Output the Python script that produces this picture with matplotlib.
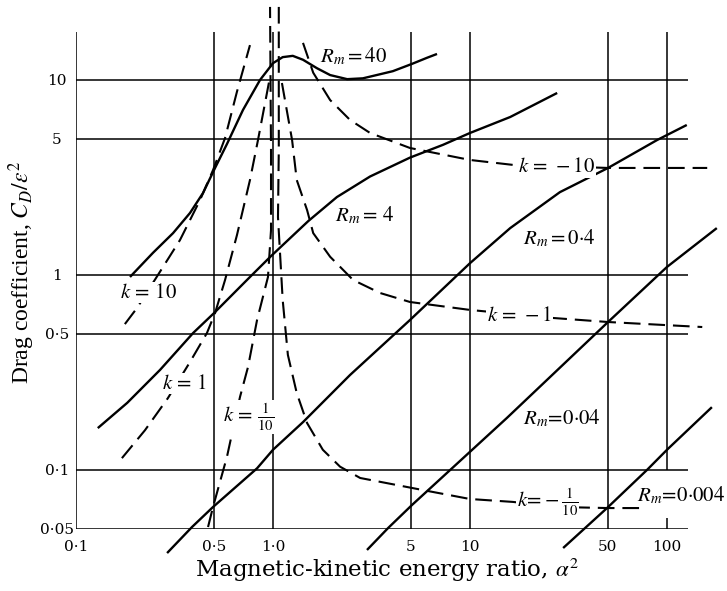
import matplotlib
matplotlib.use("Agg")
import matplotlib.pyplot as plt

plt.rcParams['font.family'] = ['DejaVu Serif']
plt.rcParams['mathtext.fontset'] = 'stix'

# ---------------- data ----------------
rm40_x = [0.188, 0.246, 0.311, 0.379, 0.441, 0.508, 0.584, 0.704, 0.859, 1.0, 1.12, 1.26, 1.42,
          1.67, 1.95, 2.38, 2.86, 3.49, 4.06, 5.08, 6.05, 6.80]
rm40_y = [0.977, 1.30, 1.64, 2.08, 2.63, 3.54, 4.7, 7.02, 10.0, 12.2, 13.1, 13.3, 12.7,
          11.5, 10.6, 10.1, 10.2, 10.7, 11.1, 12.1, 13.0, 13.6]

rm4_x = [0.129, 0.182, 0.267, 0.393, 0.502, 0.764, 0.977, 1.51, 2.11, 3.11, 4.96, 7.29, 10.0, 16.0, 27.7]
rm4_y = [0.164, 0.221, 0.326, 0.504, 0.638, 0.977, 1.25, 1.89, 2.51, 3.2, 4.0, 4.65, 5.35, 6.46, 8.58]

rm04_x = [0.290, 0.388, 0.496, 0.830, 1.0, 1.42, 2.46, 4.96, 10.0, 16.0, 28.6, 50.2, 89.0, 126]
rm04_y = [0.0375, 0.051, 0.0646, 0.102, 0.127, 0.176, 0.307, 0.588, 1.15, 1.74, 2.66, 3.54, 4.92, 5.88]

rm004_x = [3.0, 3.84, 5.08, 10.0, 15.4, 50.2, 100, 179]
rm004_y = [0.0389, 0.0504, 0.0662, 0.124, 0.185, 0.574, 1.10, 1.74]

rm0004_x = [29.7, 49.6, 79.1, 100, 169]
rm0004_y = [0.0398, 0.0638, 0.100, 0.127, 0.210]

k10_x = [0.177, 0.204, 0.267, 0.337, 0.426, 0.496, 0.571, 0.656, 0.764]
k10_y = [0.56, 0.677, 1.04, 1.51, 2.42, 3.45, 5.04, 8.7, 15.1]

k1_x = [0.171, 0.224, 0.293, 0.379, 0.462, 0.508, 0.571, 0.656, 0.764, 0.839, 0.966]
k1_y = [0.115, 0.160, 0.234, 0.358, 0.504, 0.638, 0.943, 1.60, 3.07, 4.92, 10.4]

k01_x = [0.468, 0.496, 0.584, 0.680, 0.747, 0.830, 0.943, 0.977, 0.977, 0.966]
k01_y = [0.051, 0.0646, 0.117, 0.237, 0.338, 0.588, 0.977, 1.70, 4.38, 23.7]

km01_x = [1.07, 1.07, 1.07, 1.06, 1.12, 1.19, 1.32, 1.49, 1.79, 2.19, 2.77, 5.77, 10.0, 16.5, 28.6, 50.2, 75.5]
km01_y = [23.7, 9.2, 4.38, 1.98, 0.744, 0.389, 0.248, 0.174, 0.127, 0.104, 0.0910, 0.0789, 0.0710,
          0.0686, 0.0646, 0.0638, 0.0638]

km1_x = [1.11, 1.25, 1.32, 1.49, 1.60, 1.95, 2.55, 3.49, 4.96, 10.0, 26.4, 50.2, 151]
km1_y = [9.65, 4.92, 3.07, 2.15, 1.64, 1.24, 0.943, 0.809, 0.727, 0.662, 0.602, 0.574, 0.541]

km10_x = [1.42, 1.60, 1.95, 2.46, 3.11, 4.96, 10.0, 16.5, 50.2, 160]
km10_y = [15.5, 10.9, 7.89, 6.24, 5.35, 4.48, 3.89, 3.67, 3.54, 3.54]

solid_curves = [(rm40_x, rm40_y), (rm4_x, rm4_y), (rm04_x, rm04_y), (rm004_x, rm004_y), (rm0004_x, rm0004_y)]
dashed_curves = [(k10_x, k10_y), (k1_x, k1_y), (k01_x, k01_y), (km01_x, km01_y), (km1_x, km1_y), (km10_x, km10_y)]

curve_labels = [r"$R_m = 40$", r"$R_m =\,4$", r"$R_m = 0·4$", r"$R_m\!=\!0·04$", r"$R_m\!=\!0·004$",
                r"$k\,=\,10$", r"$k\,=\,1$", r"$k\,=\,\frac{1}{10}$", r"$k\!=\!-\frac{1}{10}$",
                r"$k\,=\,-1$", r"$k\,=\,-10$"]
label_x = [1.73, 2.06, 18.6, 18.6, 70.5, 0.167, 0.273, 0.557, 17.3, 12.2, 17.5]
label_y = [13.3, 2.03, 1.55, 0.185, 0.0744, 0.809, 0.279, 0.187, 0.0686, 0.623, 3.58]

xgrid = [0.1, 0.5, 1.0, 5, 10, 50]
ygrid = [0.05, 0.1, 0.5, 1, 5, 10]
xticks = [0.1, 0.5, 1.0, 5, 10, 50, 100]
xticklabels = ["0·1", "0·5", "1·0", "5", "10", "50", "100"]
yticks = [0.05, 0.1, 0.5, 1, 5, 10]
yticklabels = ["0·05", "0·1", "0·5", "1", "5", "10"]
grid_xmax = 128
grid_ymax = 17.6

# ---------------- figure ----------------
fig = plt.figure(figsize=(7.27, 5.91), dpi=100)
ax = fig.add_axes([76 / 727, (591 - 528.7) / 591, (727 - 76) / 727, 528.7 / 591])
ax.set_xscale('log')
ax.set_yscale('log')
ax.set_xlim(0.1, 10 ** ((727 - 273) / 197))
ax.set_ylim(0.05, 10 ** (275 / 195))
for s in ax.spines.values():
    s.set_visible(False)
ax.minorticks_off()

# grid
ax.hlines(ygrid, 0.1, grid_xmax, colors='black', lw=1.1, zorder=1)
ax.vlines(xgrid, 0.05, grid_ymax, colors='black', lw=1.1, zorder=1)
ax.vlines([100], 0.1, grid_ymax, colors='black', lw=1.1, zorder=1)
ax.vlines([100], 0.05, 0.057, colors='black', lw=1.1, zorder=1)

for xs, ys in solid_curves:
    ax.plot(xs, ys, color='black', lw=1.7, clip_on=False, zorder=2,
            solid_capstyle='butt', solid_joinstyle='round')
for xs, ys in dashed_curves:
    ax.plot(xs, ys, color='black', lw=1.5, clip_on=False, zorder=2, dashes=(8, 3.8))

for t, lx, ly in zip(curve_labels, label_x, label_y):
    ax.text(lx, ly, t, fontsize=15, ha='left', va='center', zorder=3,
            bbox=dict(facecolor='white', edgecolor='none', pad=0.8))

ax.set_xticks(xticks)
ax.set_xticklabels(xticklabels)
ax.set_yticks(yticks)
ax.set_yticklabels(yticklabels)
ax.tick_params(axis='both', length=0, labelsize=11)
ax.tick_params(axis='x', pad=8)
ax.tick_params(axis='y', pad=13.7)
for t in ax.get_yticklabels():
    t.set_ha('center')

fig.text(387 / 727, 1 - 570 / 591, r"Magnetic-kinetic energy ratio, $\alpha^2$",
         ha='center', va='center', fontsize=16.5)
fig.text(22 / 727, 1 - 272 / 591, r"Drag coefficient, $C_D/\varepsilon^2$",
         ha='center', va='center', fontsize=17, rotation=90, family='Liberation Serif')

fig.savefig("out.png", dpi=100)
